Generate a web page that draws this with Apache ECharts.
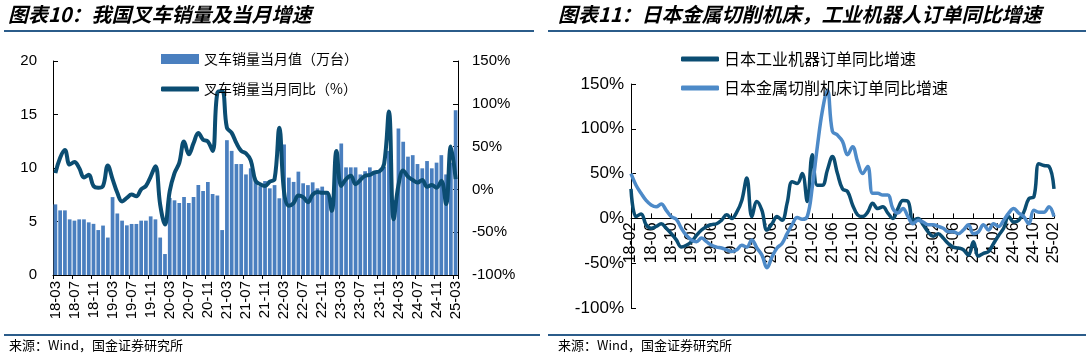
<!DOCTYPE html>
<html><head><meta charset="utf-8">
<script src="https://cdn.jsdelivr.net/npm/echarts/dist/echarts.min.js"></script>
<style>html,body{margin:0;padding:0;background:#fff}#c{width:1086px;height:358px}</style>
</head><body><div id="c"></div>
<script>
function months(startY, startM, n) {
  const out = [];
  let y = startY, m = startM;
  for (let i = 0; i < n; i++) {
    out.push(String(y).padStart(2, '0') + '-' + String(m).padStart(2, '0'));
    m++; if (m > 12) { m = 1; y++; }
  }
  return out;
}
// Chart 10: forklift sales (18-03 .. 25-03)
const forkCats = months(18, 3, 85);
const forkSales = [6.6,6.04,6.04,5.2,5.08,5.2,5.2,4.92,4.78,4.2,4.62,3.5,
  7.28,5.75,5.08,4.64,4.77,4.77,5.08,5.08,5.48,5.2,3.5,1.96,
  7.2,6.98,6.73,7.29,6.73,7.29,8.41,7.85,8.69,7.57,7.43,4.2,
  12.6,11.6,10.37,10.37,9.4,9.97,8.9,8.3,8.78,8.1,8.4,7.17,
  12.2,9.1,8.7,9.66,8.57,8.4,8.66,8.1,8.26,7.8,6.2,10.4,
  12.3,10.06,10.06,10.06,9.4,9.7,10.06,9.66,9.8,10.1,11.6,7.0,
  13.7,12.46,11.06,11.2,10.37,9.97,10.65,9.97,10.5,11.2,9.4,10.5,
  15.4];
const forkYoY = [19,37,46,29,32,25,14,17,4,2,4,28,
  12,-4,-14,-10,-6,-8,0,4,15,27,-18,-41,
  -2,19,31,56,41,54,66,58,56,45,113,115,
  72,66,54,45,42,34,10,6,4,9,12,72,
  -3,-19,-16,-7,-9,-15,-6,-3,-4,-4,-25,45,
  4,12,16,6,11,16,17,20,21,30,91,-35,
  5,22,15,11,8,11,3,5,2,10,-17,50,
  12];
// Chart 11: Japan orders yoy (18-02 .. 25-02)
const jpCats = months(18, 2, 85);
const robotYoY = [33,2,5,-7,-11,-9,-6,-11,-17,-24,
  -32,-30,-26,-19,-13,-9,-7,-6,-2,4,
  0,7,20,45,2,19,9,-13,-6,2,
  -2,17,41,39,50,19,71,37,37,54,
  69,50,33,30,15,4,2,7,17,11,
  13,6,0,11,20,19,-2,0,-7,-15,
  -20,-17,-22,-28,-32,-33,-35,-41,-26,-42,
  -39,-37,-28,-19,-11,2,-4,-2,7,22,
  24,61,59,58,33];
const toolYoY = [50,37,28,20,15,13,16,9,2,-1,
  -11,-19,-24,-26,-22,-26,-30,-32,-33,-35,
  -37,-35,-30,-32,-24,-33,-41,-55,-43,-33,
  -28,-17,-7,1,-1,2,35,80,120,143,
  97,93,86,71,80,63,50,58,28,28,
  26,26,11,6,11,2,-6,-2,-4,-7,
  -7,-9,-11,-15,-15,-17,-13,-7,-17,-15,
  -7,-13,-6,-9,-2,6,11,6,2,-6,
  9,7,7,13,2];
const leftTicks = {min: 0, max: 20, interval: 5};
const pctTicks = {min: -100, max: 150, interval: 50};

const NAME_BAR = '叉车销量当月值（万台）';
const NAME_LINE = '叉车销量当月同比（%）';
const NAME_ROBOT = '日本工业机器订单同比增速';
const NAME_TOOL = '日本金属切削机床订单同比增速';

const BAR_C = '#4a7fbf', DARK_C = '#0b4d72', LIGHT_C = '#4d8ac8', RULE_C = '#2b5c8a';
const NUMF = '"Liberation Sans", Arial, sans-serif';
const CJK = '"Noto Sans CJK SC", sans-serif';

// right grid geometry (px) – the category axis sits on the 0% line
const G2 = {left: 631, top: 84, width: 423, height: 224};
const zeroOffset = G2.height * (0 - pctTicks.min) / (pctTicks.max - pctTicks.min);

const chart = echarts.init(document.getElementById('c'), null, {renderer: 'canvas'});
const axisBlack = {show: true, lineStyle: {color: '#000', width: 1}};
chart.setOption({
  animation: false,
  backgroundColor: '#fff',
  grid: [
    {left: 53, top: 61, width: 405, height: 214},
    G2
  ],
  legend: [
    {data: [{name: NAME_BAR, icon: 'rect'}], left: 156, top: 47, itemWidth: 38, itemHeight: 10,
     textStyle: {fontSize: 14, fontFamily: CJK, color: '#000'}},
    {data: [{name: NAME_LINE, icon: 'roundRect'}], left: 156, top: 77, itemWidth: 38, itemHeight: 5,
     textStyle: {fontSize: 14, fontFamily: CJK, color: '#000'}},
    {data: [{name: NAME_ROBOT, icon: 'roundRect'}], left: 676, top: 46, itemWidth: 38, itemHeight: 5,
     textStyle: {fontSize: 16, fontFamily: CJK, color: '#000'}},
    {data: [{name: NAME_TOOL, icon: 'roundRect'}], left: 676, top: 75, itemWidth: 38, itemHeight: 5,
     textStyle: {fontSize: 16, fontFamily: CJK, color: '#000'}}
  ],
  xAxis: [
    {type: 'category', gridIndex: 0, data: forkCats, boundaryGap: true,
     axisLine: axisBlack,
     axisTick: {show: true, interval: 3, length: 4, lineStyle: {color: '#000'}},
     axisLabel: {interval: 3, rotate: 90, fontSize: 15, fontFamily: NUMF, color: '#000', margin: 6},
     splitLine: {show: false}},
    {type: 'category', gridIndex: 1, data: jpCats, boundaryGap: false,
     position: 'bottom', offset: -zeroOffset,
     axisLine: {show: true, onZero: false, lineStyle: {color: '#000', width: 1}},
     axisTick: {show: true, inside: true, interval: 3, length: 5, lineStyle: {color: '#000'}},
     axisLabel: {interval: 3, rotate: 90, fontSize: 16, fontFamily: NUMF, color: '#000', margin: 4},
     splitLine: {show: false}}
  ],
  yAxis: [
    {type: 'value', gridIndex: 0, min: leftTicks.min, max: leftTicks.max, interval: leftTicks.interval,
     axisLine: axisBlack, axisTick: {show: true, inside: true, length: 5, lineStyle: {color: '#000'}},
     axisLabel: {fontSize: 15, fontFamily: NUMF, color: '#000', margin: 16},
     splitLine: {show: false}},
    {type: 'value', gridIndex: 0, position: 'right', min: pctTicks.min, max: pctTicks.max, interval: pctTicks.interval,
     axisLine: axisBlack, axisTick: {show: true, inside: true, length: 5, lineStyle: {color: '#000'}},
     axisLabel: {fontSize: 15, fontFamily: NUMF, color: '#000', margin: 14, formatter: '{value}%'},
     splitLine: {show: false}},
    {type: 'value', gridIndex: 1, min: pctTicks.min, max: pctTicks.max, interval: pctTicks.interval,
     axisLine: axisBlack, axisTick: {show: true, inside: true, length: 5, lineStyle: {color: '#000'}},
     axisLabel: {fontSize: 17, fontFamily: NUMF, color: '#000', margin: 7, formatter: '{value}%'},
     splitLine: {show: false}}
  ],
  series: [
    {name: NAME_BAR, type: 'bar', xAxisIndex: 0, yAxisIndex: 0, data: forkSales,
     barCategoryGap: '22%', itemStyle: {color: BAR_C}, color: BAR_C},
    {name: NAME_LINE, type: 'line', xAxisIndex: 0, yAxisIndex: 1, data: forkYoY,
     smooth: 0.4, symbol: 'none', color: DARK_C, itemStyle: {color: DARK_C},
     lineStyle: {color: DARK_C, width: 4}},
    {name: NAME_ROBOT, type: 'line', xAxisIndex: 1, yAxisIndex: 2, data: robotYoY,
     smooth: 0.4, symbol: 'none', color: DARK_C, itemStyle: {color: DARK_C},
     lineStyle: {color: DARK_C, width: 3.5}},
    {name: NAME_TOOL, type: 'line', xAxisIndex: 1, yAxisIndex: 2, data: toolYoY,
     smooth: 0.4, symbol: 'none', color: LIGHT_C, itemStyle: {color: LIGHT_C},
     lineStyle: {color: LIGHT_C, width: 3.5}}
  ],
  graphic: [
    {type: 'text', left: 8, top: 4, style: {text: '图表10：我国叉车销量及当月增速',
      font: 'italic bold 20px "Noto Sans CJK SC"', fill: '#000'}},
    {type: 'text', left: 558, top: 4, style: {text: '图表11：日本金属切削机床，工业机器人订单同比增速',
      font: 'italic bold 20px "Noto Sans CJK SC"', fill: '#000'}},
    {type: 'rect', shape: {x: 4, y: 30, width: 530, height: 2}, style: {fill: RULE_C}},
    {type: 'rect', shape: {x: 548, y: 30, width: 538, height: 2}, style: {fill: RULE_C}},
    {type: 'rect', shape: {x: 4, y: 334, width: 536, height: 2}, style: {fill: RULE_C}},
    {type: 'rect', shape: {x: 548, y: 334, width: 538, height: 2}, style: {fill: RULE_C}},
    {type: 'text', left: 9, top: 339, style: {text: '来源：Wind，国金证券研究所',
      font: '13px "Noto Sans CJK SC"', fill: '#000'}},
    {type: 'text', left: 558, top: 339, style: {text: '来源：Wind，国金证券研究所',
      font: '13px "Noto Sans CJK SC"', fill: '#000'}}
  ]
});
</script>
</body></html>
